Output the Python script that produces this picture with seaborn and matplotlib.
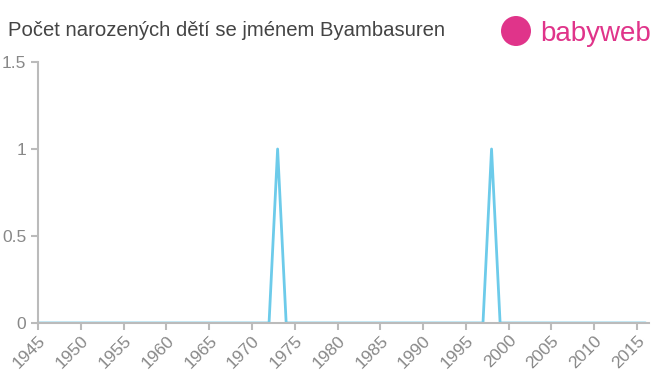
import matplotlib
matplotlib.use("Agg")
import matplotlib.pyplot as plt
import seaborn as sns
import pandas as pd
from matplotlib.patches import Circle

years = list(range(1945, 2017))
peak_years = [1973, 1998]
peak_values = [1, 1]
counts = [peak_values[peak_years.index(y)] if y in peak_years else 0 for y in years]
xticks = list(range(1945, 2016, 5))
yticks = [0, 0.5, 1, 1.5]
ytick_labels = ["0", "0.5", "1", "1.5"]
title = "Počet narozených dětí se jménem Byambasuren"

df = pd.DataFrame({"rok": years, "pocet": counts})

sns.set_theme(style="white")
plt.rcParams['font.family'] = ['Liberation Sans', 'DejaVu Sans']

fig = plt.figure(figsize=(6.6, 3.75), dpi=100)
ax = fig.add_axes([38/660, 52/375, (649-38)/660, (323-62)/375])
sns.lineplot(data=df, x="rok", y="pocet", ax=ax, color="#6dcbea", linewidth=2)

ax.set_xlim(1945, 2016.4)
ax.set_ylim(0, 1.5)
ax.set_xticks(xticks)
ax.set_xticklabels([str(t) for t in xticks], rotation=45, ha="right", rotation_mode="anchor")
ax.set_yticks(yticks)
ax.set_yticklabels(ytick_labels)
ax.set_xlabel("")
ax.set_ylabel("")
for s in ["top", "right"]:
    ax.spines[s].set_visible(False)
for s in ["left", "bottom"]:
    ax.spines[s].set_color("#bbbbbb")
    ax.spines[s].set_linewidth(1.5)
ax.tick_params(axis="both", colors="#bbbbbb", labelcolor="#888888", labelsize=12.5,
               length=5, width=1.5, direction="out", bottom=True, left=True)
ax.tick_params(axis="x", pad=2)

fig.text(8/660, 1 - 31/375, title, fontsize=14.6, color="#444444", va="center", ha="left")

# logo
logo = Circle((516/100, (375-31)/100), 0.15, transform=fig.dpi_scale_trans,
              facecolor="#e0348a", edgecolor="none")
fig.patches.append(logo)
fig.text(540/660, 1 - 34/375, "babyweb", fontsize=20, color="#e0348a", va="center", ha="left")

fig.savefig("out.png", dpi=100)
